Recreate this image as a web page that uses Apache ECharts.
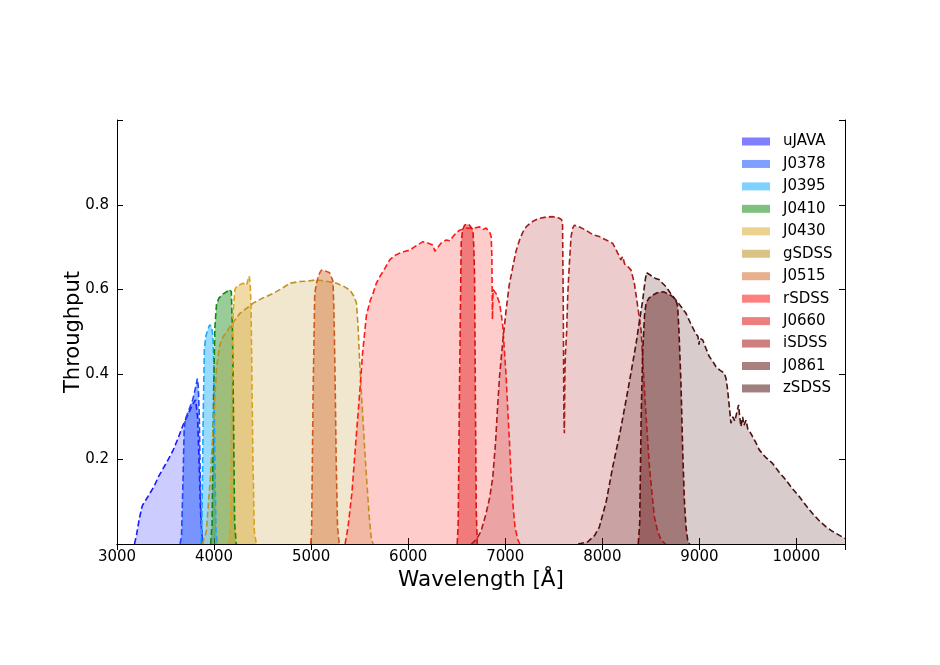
<!DOCTYPE html>
<html>
<head>
<meta charset="utf-8">
<script src="https://cdn.jsdelivr.net/npm/echarts@6/dist/echarts.min.js"></script>
<style>
html,body{margin:0;padding:0;background:#fff;}
#chart{width:940px;height:665px;}
</style>
</head>
<body>
<div id="chart"></div>
<script>
// ---- data: [wavelength (Å), throughput] ----
const filterNames = ['uJAVA','J0378','J0395','J0410','J0430','gSDSS','J0515','rSDSS','J0660','iSDSS','J0861','zSDSS'];

const uJAVA = [[3180,0],[3200,0.02],[3230,0.06],[3260,0.09],[3300,0.105],[3340,0.12],[3380,0.135],[3430,0.16],[3480,0.18],[3530,0.2],[3580,0.222],[3630,0.25],[3680,0.28],[3700,0.29],[3740,0.31],[3780,0.33],[3810,0.34],[3830,0.3],[3845,0.2],[3860,0.08],[3880,0]];
const J0378 = [[3650,0],[3665,0.02],[3680,0.15],[3692,0.27],[3705,0.295],[3730,0.31],[3755,0.325],[3780,0.34],[3800,0.36],[3815,0.375],[3828,0.39],[3838,0.37],[3848,0.3],[3858,0.15],[3870,0.04],[3885,0]];
const J0395 = [[3860,0],[3875,0.05],[3888,0.3],[3900,0.46],[3915,0.49],[3935,0.505],[3955,0.517],[3975,0.512],[3988,0.49],[3998,0.42],[4008,0.2],[4020,0.03],[4035,0]];
const J0410 = [[3965,0],[3980,0.05],[3995,0.35],[4008,0.51],[4025,0.565],[4050,0.58],[4094,0.59],[4130,0.595],[4160,0.6],[4178,0.595],[4190,0.5],[4200,0.3],[4212,0.05],[4228,0]];
const J0430 = [[4155,0],[4170,0.05],[4185,0.4],[4197,0.55],[4215,0.6],[4231,0.607],[4270,0.612],[4300,0.615],[4334,0.61],[4352,0.625],[4362,0.632],[4372,0.615],[4380,0.57],[4388,0.43],[4400,0.2],[4415,0.03],[4435,0]];
const gSDSS = [[3880,0],[3920,0.03],[3960,0.15],[3991,0.277],[4026,0.418],[4060,0.47],[4094,0.489],[4163,0.512],[4220,0.53],[4266,0.544],[4330,0.555],[4403,0.568],[4500,0.58],[4609,0.591],[4700,0.603],[4780,0.615],[4883,0.619],[4960,0.62],[5055,0.623],[5150,0.62],[5261,0.615],[5340,0.607],[5398,0.599],[5440,0.585],[5467,0.568],[5484,0.512],[5500,0.43],[5518,0.355],[5545,0.25],[5570,0.159],[5600,0.06],[5621,0.01],[5640,0]];
const J0515 = [[4995,0],[5005,0.03],[5020,0.35],[5037,0.59],[5055,0.615],[5072,0.63],[5090,0.64],[5106,0.646],[5130,0.645],[5158,0.643],[5190,0.64],[5209,0.638],[5225,0.62],[5235,0.55],[5245,0.42],[5258,0.2],[5272,0.04],[5290,0]];
const rSDSS = [[5350,0],[5380,0.04],[5420,0.12],[5460,0.24],[5500,0.356],[5530,0.45],[5570,0.54],[5610,0.575],[5638,0.591],[5672,0.615],[5706,0.63],[5760,0.65],[5809,0.67],[5860,0.68],[5912,0.686],[5960,0.69],[6015,0.693],[6080,0.703],[6152,0.713],[6200,0.71],[6255,0.705],[6275,0.69],[6289,0.695],[6340,0.71],[6392,0.717],[6430,0.715],[6461,0.725],[6500,0.735],[6530,0.74],[6600,0.745],[6680,0.745],[6735,0.748],[6770,0.742],[6804,0.745],[6840,0.735],[6855,0.725],[6862,0.68],[6868,0.53],[6874,0.6],[6890,0.6],[6907,0.59],[6941,0.568],[6960,0.54],[6975,0.512],[6990,0.46],[7009,0.395],[7025,0.32],[7044,0.238],[7060,0.16],[7078,0.096],[7100,0.04],[7130,0.01],[7150,0]];
const J0660 = [[6505,0],[6515,0.05],[6530,0.4],[6546,0.709],[6560,0.74],[6581,0.752],[6610,0.755],[6632,0.752],[6655,0.745],[6667,0.74],[6676,0.7],[6684,0.63],[6692,0.35],[6701,0.08],[6712,0]];
const iSDSS = [[6650,0],[6700,0.01],[6750,0.03],[6800,0.07],[6840,0.11],[6872,0.159],[6900,0.24],[6920,0.32],[6941,0.395],[6975,0.48],[7009,0.552],[7040,0.61],[7078,0.654],[7110,0.69],[7147,0.717],[7180,0.735],[7215,0.748],[7250,0.755],[7290,0.762],[7352,0.768],[7420,0.771],[7489,0.772],[7540,0.77],[7575,0.766],[7590,0.76],[7598,0.55],[7604,0.3],[7609,0.261],[7614,0.4],[7620,0.45],[7626,0.473],[7632,0.5],[7644,0.59],[7660,0.66],[7678,0.725],[7695,0.745],[7712,0.752],[7770,0.747],[7832,0.74],[7900,0.73],[7969,0.725],[8040,0.717],[8107,0.709],[8140,0.695],[8158,0.686],[8175,0.68],[8190,0.67],[8210,0.678],[8230,0.66],[8260,0.655],[8296,0.646],[8330,0.615],[8365,0.56],[8399,0.505],[8430,0.38],[8451,0.3],[8485,0.182],[8536,0.064],[8570,0.03],[8605,0.01],[8650,0]];
const J0861 = [[8370,0],[8385,0.05],[8400,0.3],[8416,0.457],[8435,0.54],[8451,0.568],[8480,0.58],[8519,0.587],[8560,0.592],[8605,0.595],[8640,0.594],[8673,0.59],[8710,0.586],[8742,0.58],[8765,0.57],[8776,0.56],[8790,0.5],[8810,0.379],[8828,0.22],[8845,0.104],[8862,0.04],[8879,0.01],[8900,0]];
const zSDSS = [[7750,0],[7850,0.005],[7920,0.02],[7969,0.04],[8040,0.1],[8107,0.182],[8180,0.26],[8245,0.34],[8300,0.41],[8348,0.473],[8385,0.53],[8416,0.575],[8440,0.62],[8455,0.64],[8468,0.642],[8490,0.635],[8519,0.63],[8550,0.626],[8588,0.623],[8620,0.615],[8656,0.607],[8700,0.592],[8759,0.575],[8810,0.56],[8862,0.544],[8910,0.52],[8965,0.495],[8985,0.49],[8995,0.47],[9005,0.485],[9034,0.481],[9070,0.46],[9102,0.442],[9140,0.43],[9171,0.418],[9210,0.41],[9257,0.403],[9275,0.39],[9291,0.363],[9310,0.32],[9325,0.285],[9345,0.3],[9365,0.29],[9385,0.31],[9404,0.328],[9415,0.3],[9428,0.277],[9445,0.3],[9460,0.28],[9480,0.292],[9500,0.27],[9520,0.265],[9548,0.253],[9580,0.24],[9617,0.222],[9680,0.205],[9754,0.19],[9820,0.17],[9891,0.151],[9960,0.13],[10028,0.112],[10100,0.09],[10165,0.072],[10230,0.056],[10302,0.041],[10370,0.03],[10439,0.021],[10500,0.013]];

const filterData = [uJAVA,J0378,J0395,J0410,J0430,gSDSS,J0515,rSDSS,J0660,iSDSS,J0861,zSDSS];

// ---- styles ----
const baseRGB = [[0,0,255],[0,64,255],[0,165,255],[0,128,0],[218,165,32],[184,134,11],[210,96,30],[255,0,0],[221,0,0],[160,0,0],[85,0,0],[64,0,0]];
const lineColors = ['#1a1aff','#1f45ff','#1aa8ff','#118811','#d8a420','#c09020','#d05a1e','#ff1a1a','#dd1111','#a81c1c','#5a0a0a','#4a1212'];
const broad = [true,false,false,false,false,true,false,true,false,true,false,true];

function rgba(c,a){return 'rgba('+c[0]+','+c[1]+','+c[2]+','+a+')';}

const FONT = 'DejaVu Sans';

const series = filterNames.map((name,i)=>({
  name:name,
  type:'line',
  data:filterData[i],
  xAxisIndex:0,
  yAxisIndex:0,
  showSymbol:false,
  symbol:'none',
  smooth:false,
  clip:true,
  itemStyle:{color:rgba(baseRGB[i],0.5)},
  lineStyle:{color:lineColors[i],width:1.6,type:[6,3]},
  areaStyle:{color:rgba(baseRGB[i],broad[i]?0.2:0.4),opacity:1,origin:'start'},
  emphasis:{disabled:true}
}));

const chart = echarts.init(document.getElementById('chart'),null,{renderer:'canvas'});
chart.setOption({
  animation:false,
  backgroundColor:'#ffffff',
  grid:{left:117,right:95,top:120,bottom:121,containLabel:false},
  legend:{
    orient:'vertical',
    left:742,
    top:134,
    padding:0,
    icon:'rect',
    itemWidth:28,
    itemHeight:8,
    itemGap:7.45,
    itemStyle:{borderWidth:0},
    textStyle:{fontFamily:FONT,fontSize:15,color:'#000',lineHeight:15,padding:[0,0,0,8]},
    data:filterNames.map((n,i)=>({name:n,itemStyle:{color:rgba(baseRGB[i],0.5),borderWidth:0}})),
    selectedMode:false
  },
  xAxis:[{
    type:'value',min:3000,max:10500,interval:1000,
    name:'Wavelength [Å]',nameLocation:'middle',nameGap:21,
    nameTextStyle:{fontFamily:FONT,fontSize:21.5,color:'#000'},
    axisLine:{show:true,lineStyle:{color:'#000',width:1}},
    axisTick:{show:true,inside:true,length:6,lineStyle:{color:'#000'}},
    axisLabel:{show:true,fontFamily:FONT,fontSize:15,color:'#000',margin:6,showMaxLabel:false,
      formatter:v=>(v>10000?'':String(v))},
    splitLine:{show:false}
  },{
    type:'value',min:3000,max:10500,interval:1000,position:'top',
    axisLine:{show:true,lineStyle:{color:'#000',width:1}},
    axisTick:{show:true,inside:true,length:6,lineStyle:{color:'#000'}},
    axisLabel:{show:false},splitLine:{show:false}
  }],
  yAxis:[{
    type:'value',min:0,max:1,interval:0.2,
    name:'Throughput',nameLocation:'middle',nameGap:33,nameRotate:90,nameMoveOverlap:false,
    nameTextStyle:{fontFamily:FONT,fontSize:21,color:'#000'},
    axisLine:{show:true,lineStyle:{color:'#000',width:1}},
    axisTick:{show:true,inside:true,length:6,lineStyle:{color:'#000'}},
    axisLabel:{show:true,fontFamily:FONT,fontSize:15,color:'#000',margin:8,
      formatter:v=>((v<0.01||v>0.99)?'':v.toFixed(1))},
    splitLine:{show:false}
  },{
    type:'value',min:0,max:1,interval:0.2,position:'right',
    axisLine:{show:true,lineStyle:{color:'#000',width:1}},
    axisTick:{show:true,inside:true,length:6,lineStyle:{color:'#000'}},
    axisLabel:{show:false},splitLine:{show:false}
  }],
  series:series
});
</script>
</body>
</html>
